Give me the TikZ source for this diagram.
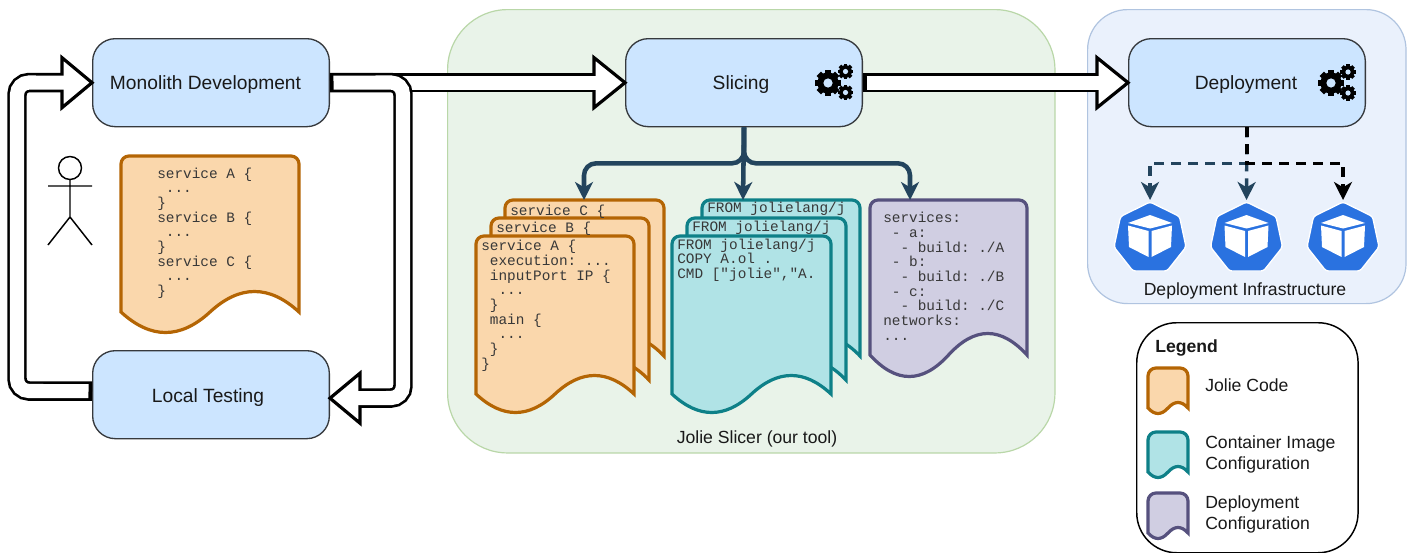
\documentclass[tikz,border=0pt]{standalone}
\usepackage{fontspec}
\setmainfont{Liberation Sans}
\newfontfamily\codefont{Liberation Mono}
\usetikzlibrary{arrows.meta,calc}
\definecolor{boxfill}{HTML}{CCE5FF}
\definecolor{boxline}{HTML}{36393D}
\definecolor{navy}{HTML}{23445D}
\definecolor{kubeblue}{HTML}{2A72E0}
\definecolor{orfill}{HTML}{FAD7AC}
\definecolor{orline}{HTML}{B46504}
\definecolor{tefill}{HTML}{B0E3E6}
\definecolor{teline}{HTML}{0E8088}
\definecolor{pufill}{HTML}{D0CEE2}
\definecolor{puline}{HTML}{56517E}
\tikzset{
  boxnode/.style={draw=boxline,fill=boxfill,line width=1pt,rounded corners=17pt,minimum width=177.5pt,minimum height=66pt,inner sep=0pt},
  boxtext/.style={inner sep=0pt,font=\fontsize{14.4}{17}\selectfont,text=black!90},
  jolie/.style={fill=orfill,draw=orline,line width=2.4pt,miter limit=10},
  image/.style={fill=tefill,draw=teline,line width=2.4pt,miter limit=10},
  depl/.style={fill=pufill,draw=puline,line width=2.4pt,miter limit=10},
  code/.style={anchor=north west,inner sep=0pt,align=left,font=\codefont\frenchspacing\fontsize{10.8}{11}\selectfont,text=black!78},
  label/.style={inner sep=0pt,font=\fontsize{13.2}{15.5}\selectfont,text=black!90},
  outer/.style={line width=14.6pt,black,rounded corners=9pt},
  innerw/.style={line width=10.6pt,white,rounded corners=9pt},
  headp/.style={fill=white,draw=black,line width=2.4pt,miter limit=10},
  navyarrow/.style={draw=navy,line width=3.4pt,rounded corners=9pt,-{Stealth[length=13.5pt,width=13.5pt,inset=4pt]}},
  dasharrow/.style={line width=2.6pt,dash pattern=on 7.5pt off 5.25pt,-{Stealth[length=13.5pt,width=13.5pt,inset=4pt]}},
}
% x top width mid depth
\newcommand\docshape[6]{%
  \pgfmathsetmacro\dxa{#2+#4}%
  \pgfmathsetmacro\dca{#2+#4/6}%
  \pgfmathsetmacro\dcb{#2+#4/3}%
  \pgfmathsetmacro\dcm{#2+#4/2}%
  \pgfmathsetmacro\dcc{#2+2*#4/3}%
  \pgfmathsetmacro\dcd{#2+5*#4/6}%
  \pgfmathsetmacro\dlo{#5+2*#6/3}%
  \pgfmathsetmacro\dhi{#5-2*#6/3}%
  \path[#1] (#2,#5) [rounded corners=6pt] -- (#2,#3) -- (\dxa,#3) [sharp corners] -- (\dxa,#5)
    .. controls (\dcd,\dhi) and (\dcc,\dhi) .. (\dcm,#5)
    .. controls (\dcb,\dlo) and (\dca,\dlo) .. cycle;%
}
\newcommand\gearat[4]{% x y R hole
  \foreach \ang in {0,45,...,315}{
    \draw[black,line width=#3*0.36pt] (#1,#2) -- ++(\ang:#3);
  }
  \fill[black] (#1,#2) circle[radius=#3*0.82];
  \fill[boxfill] (#1,#2) circle[radius=#4];
}
\newcommand\kube[1]{%
  \begin{scope}[shift={(#1,0)}]
    \fill[kubeblue,draw=white,line width=1pt,rounded corners=2pt,line join=round]
      (0,202) -- (29.5,216.5) -- (36,247) -- (17,271) -- (-17,271) -- (-36,247) -- (-29.5,216.5) -- cycle;
    \fill[white] (0,215) -- (22,223) -- (0,228.5) -- (-22,223) -- cycle;
    \fill[white] (-22,225.5) -- (-1.5,231) -- (-1.5,257) -- (-21,247) -- cycle;
    \fill[white] (22,225.5) -- (1.5,231) -- (1.5,257) -- (21,247) -- cycle;
  \end{scope}%
}
\begin{document}
\begin{tikzpicture}[x=0.75pt,y=-0.75pt]
\useasboundingbox (0,0) rectangle (1413,553);
\fill[white] (0,0) rectangle (1413,553);
% panels
\node[name=greenpanel,anchor=north west,draw={rgb,255:red,185;green,215;blue,168},fill={rgb,255:red,233;green,243;blue,233},line width=0.9pt,rounded corners=45pt,minimum width=455.5pt,minimum height=332.5pt,inner sep=0pt] at (447,9) {};
\node[name=bluepanel,anchor=north west,draw={rgb,255:red,176;green,196;blue,224},fill={rgb,255:red,234;green,241;blue,252},line width=0.9pt,rounded corners=30pt,minimum width=238.8pt,minimum height=220.5pt,inner sep=0pt] at (1087,9) {};
\node[name=legendbox,anchor=north west,draw=black,fill=white,line width=1.1pt,rounded corners=30pt,minimum width=166pt,minimum height=172.5pt,inner sep=0pt] at (1136,322) {};
% boxes
\node[boxnode,name=mono,anchor=north west] at (92,38) {};
\node[boxnode,name=local,anchor=north west] at (92,350) {};
\node[boxnode,name=slicing,anchor=north west] at (625,38) {};
\node[boxnode,name=deploy,anchor=north west] at (1128,38) {};
\node[boxtext,name=monotext] at (205.5,84.5) {Monolith Development};
\node[boxtext,name=localtext] at (208,397.5) {Local Testing};
\node[boxtext,name=slicingtext] at (741,84.5) {Slicing};
\node[boxtext,name=deploytext] at (1246,84.5) {Deployment};
% gears
\gearat{828}{83}{13}{4.6}
\gearat{845.5}{71.5}{7.8}{2.6}
\gearat{845.5}{92.5}{7.8}{2.6}
\gearat{1331}{83}{13}{4.6}
\gearat{1348}{72}{7.8}{2.6}
\gearat{1348}{93}{7.8}{2.6}
% hollow arrows
\coordinate (sliceBase) at ($(slicing.west)+(-31,0)$);
\draw[outer] (mono.east) -- (sliceBase);
\path[headp] ($(sliceBase)+(0,-25)$) -- (slicing.west) -- ($(sliceBase)+(0,25)$) -- cycle;
\draw[innerw] ($(mono.east)+(3.5,0)$) -- ($(sliceBase)+(3,0)$);

\coordinate (depBase) at ($(deploy.west)+(-31,0)$);
\draw[outer] (slicing.east) -- (depBase);
\path[headp] ($(depBase)+(0,-25)$) -- (deploy.west) -- ($(depBase)+(0,25)$) -- cycle;
\draw[innerw] ($(slicing.east)+(3.5,0)$) -- ($(depBase)+(3,0)$);

\coordinate (locTip) at ($(local.east)+(0,3.5)$);
\coordinate (locBase) at ($(locTip)+(30,0)$);
\draw[outer] (mono.east) -- (403,82.5) -- (403,398) -- (locBase);
\path[headp] ($(locBase)+(0,-25)$) -- (locTip) -- ($(locBase)+(0,25)$) -- cycle;
\draw[innerw] ($(mono.east)+(3.5,0)$) -- (403,82.5) -- (403,398) -- ($(locBase)+(-3,0)$);

\coordinate (monTip) at (mono.west);
\coordinate (monBase) at ($(monTip)+(-30,0)$);
\coordinate (locOut) at ($(local.west)+(0,-3.5)$);
\draw[outer] (locOut) -- (17,391) -- (17,82.5) -- (monBase);
\path[headp] ($(monBase)+(0,-25)$) -- (monTip) -- ($(monBase)+(0,25)$) -- cycle;
\draw[innerw] ($(locOut)+(-3.5,0)$) -- (17,391) -- (17,82.5) -- ($(monBase)+(3,0)$);
% actor
\coordinate (head) at (70,168);
\draw[black,line width=1.1pt] (head) circle[radius=11.5*0.75pt];
\draw[black,line width=1.1pt] (70,179.5) -- (70,217) -- (48,245) (70,217) -- (92,245) (48,186) -- (92,186);
% documents
\docshape{jolie}{121}{156}{178}{312}{41}
\node[code,name=srcall] at (157,167.5) {service A \{\\~...\\\}\\service B \{\\~...\\\}\\service C \{\\~...\\\}};
\docshape{jolie}{505}{200}{159}{356}{41}
\docshape{jolie}{491}{218}{158}{380}{41}
\docshape{jolie}{476}{236}{158}{394}{37}
\node[code,name=srcc] at (510,204.5) {service C \{};
\node[code,name=srcb] at (496,221.5) {service B \{};
\node[code,name=srca] at (481,240) {service A \{\\~execution: ...\\~inputPort IP \{\\~~...\\~\}\\~main \{\\~~...\\~\}\\\}};
\docshape{image}{702}{200}{158}{356}{41}
\docshape{image}{687}{218}{159}{380}{41}
\docshape{image}{672}{236}{159}{394}{37}
\node[code,name=imgc] at (707,202) {FROM jolielang/j};
\node[code,name=imgb] at (692,220.5) {FROM jolielang/j};
\node[code,name=imga] at (677,238.5) {FROM jolielang/j\\COPY A.ol .\\CMD ["jolie","A.};
\docshape{depl}{870}{200}{157}{355}{43}
\node[code,name=compose] at (883,212) {services:\\~-~a:\\~~-~build:~./A\\~-~b:\\~~-~build:~./B\\~-~c:\\~~-~build:~./C\\networks:\\...};
% slicing arrows
\coordinate (tipC) at (584,200);
\coordinate (tipM) at (743,200);
\coordinate (tipP) at (910,200);
\draw[navyarrow] (slicing.south) -- ++(0,36) -| (tipC);
\draw[navyarrow] (slicing.south) -- ++(0,36) -| (tipP);
\draw[navyarrow] (slicing.south) -- (tipM);
% kube icons
\kube{1150}\kube{1246.5}\kube{1343}
\coordinate (k1) at (1150,200);
\coordinate (k2) at (1246.5,200);
\coordinate (k3) at (1343,200);
\draw[dasharrow,navy] (deploy.south) -- ++(0,36) -| (k1);
\draw[dasharrow,navy] (deploy.south) -- (k2);
\draw[dasharrow,black] (deploy.south) -- ++(0,36) -| (k3);
% labels
\node[label,name=sliceLabel] at (757,438.5) {Jolie Slicer (our tool)};
\node[label,name=infraLabel] at (1245,290.5) {Deployment Infrastructure};
\node[label,name=legendTitle,anchor=west,font=\fontsize{13.2}{15}\selectfont\bfseries] at (1155,348) {Legend};
\docshape{jolie}{1148}{368}{40}{408}{11}
\docshape{image}{1148}{432}{40}{472}{11}
\docshape{depl}{1148}{493}{40}{533}{11}
\node[label,name=lgA,anchor=west] at (1205,385.5) {Jolie Code};
\node[label,name=lgB,anchor=west,align=left] at (1205,454.5) {Container Image\\Configuration};
\node[label,name=lgC,anchor=west,align=left] at (1205,514.5) {Deployment\\Configuration};
\end{tikzpicture}
\end{document}
